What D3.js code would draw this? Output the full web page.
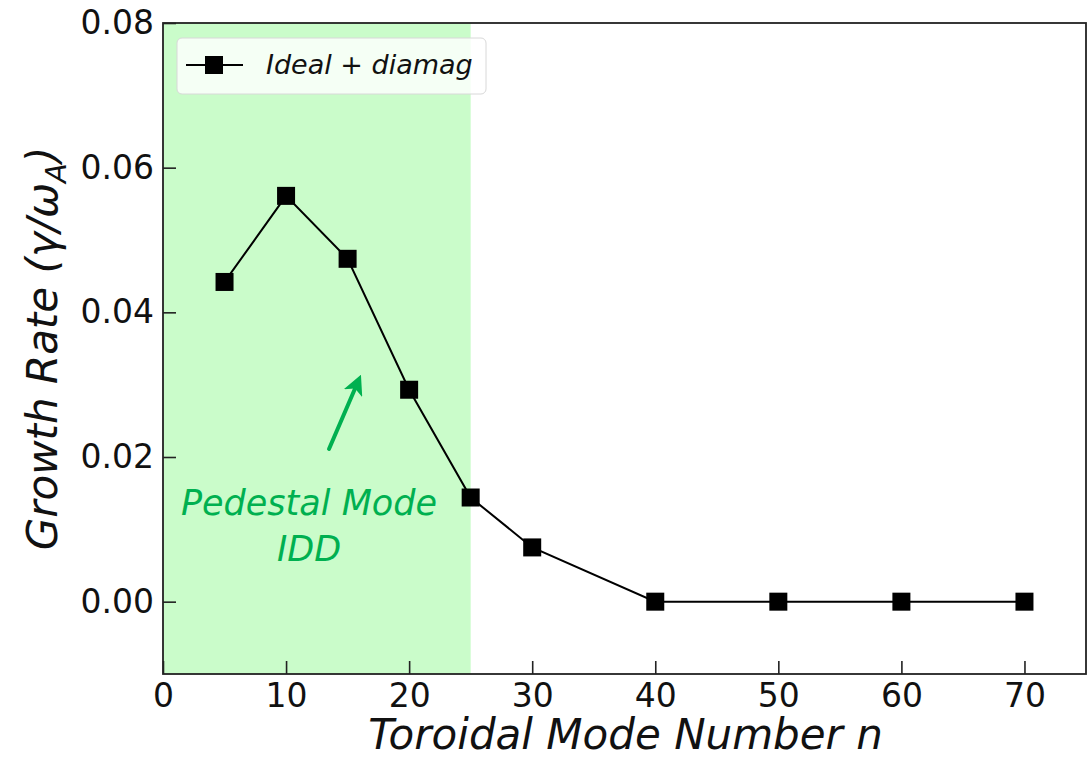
<!DOCTYPE html>
<html>
<head>
<meta charset="utf-8">
<script src="https://cdn.jsdelivr.net/npm/d3@7"></script>
<style>
  html, body { margin: 0; padding: 0; background: #fff; }
  svg { display: block; }
</style>
</head>
<body>
<svg id="chart" width="1088" height="758"></svg>
<script>
// Growth rate versus toroidal mode number
const modeNumbers = [5, 10, 15, 20, 25, 30, 40, 50, 60, 70];
const growthRates = [0.0442, 0.0561, 0.0474, 0.0293, 0.0144, 0.0075, 0.0, 0.0, 0.0, 0.0];
const xTicks = [0, 10, 20, 30, 40, 50, 60, 70];
const yTicks = [0.00, 0.02, 0.04, 0.06, 0.08];
const seriesName = "Ideal + diamag";
const pedestalRange = [0, 25];
const annotationLines = ["Pedestal Mode", "IDD"];

const svg = d3.select("#chart");
const plotL = 163, plotR = 1086, plotT = 23, plotB = 674;

const x = d3.scaleLinear().domain([0, 75]).range([plotL, plotR]);
const y = d3.scaleLinear().domain([-0.01, 0.08]).range([plotB, plotT]);

const tickFont = "'DejaVu Sans', sans-serif";

// Shaded pedestal region
svg.append("rect")
  .attr("x", x(pedestalRange[0]))
  .attr("y", plotT)
  .attr("width", x(pedestalRange[1]) - x(pedestalRange[0]))
  .attr("height", plotB - plotT)
  .attr("fill", "#cafcca");

// Axes with inward ticks
const xAxis = d3.axisBottom(x).tickValues(xTicks).tickSize(-13).tickPadding(10)
  .tickFormat(d3.format("d"));
const yAxis = d3.axisLeft(y).tickValues(yTicks).tickSize(-13).tickPadding(9)
  .tickFormat(d3.format(".2f"));

const gx = svg.append("g").attr("transform", `translate(0,${plotB})`).call(xAxis);
const gy = svg.append("g").attr("transform", `translate(${plotL},0)`).call(yAxis);
[gx, gy].forEach(g => {
  g.select(".domain").remove();
  g.selectAll(".tick line").attr("stroke", "#222").attr("stroke-width", 1.6);
  g.selectAll(".tick text")
    .attr("font-family", tickFont)
    .attr("font-size", 33)
    .attr("fill", "#111");
});

// Frame
svg.append("rect")
  .attr("x", plotL).attr("y", plotT)
  .attr("width", plotR - plotL).attr("height", plotB - plotT)
  .attr("fill", "none").attr("stroke", "#222").attr("stroke-width", 1.8);

// Data line and markers
const pts = modeNumbers.map((n, i) => ({ n, g: growthRates[i] }));
const line = d3.line().x(d => x(d.n)).y(d => y(d.g));
svg.append("path").datum(pts)
  .attr("d", line)
  .attr("fill", "none").attr("stroke", "#000").attr("stroke-width", 2);
const ms = 18;
svg.append("g").selectAll("rect").data(pts).join("rect")
  .attr("x", d => x(d.n) - ms / 2)
  .attr("y", d => y(d.g) - ms / 2)
  .attr("width", ms).attr("height", ms)
  .attr("fill", "#000");

// Legend
const lg = svg.append("g");
lg.append("rect")
  .attr("x", 177).attr("y", 38).attr("width", 309).attr("height", 56)
  .attr("rx", 5)
  .attr("fill", "rgba(255,255,255,0.8)")
  .attr("stroke", "#d8d8d8").attr("stroke-width", 1);
lg.append("line")
  .attr("x1", 186).attr("x2", 243).attr("y1", 65).attr("y2", 65)
  .attr("stroke", "#000").attr("stroke-width", 2);
lg.append("rect")
  .attr("x", 214 - 9).attr("y", 65 - 9).attr("width", 18).attr("height", 18)
  .attr("fill", "#000");
lg.append("text")
  .attr("x", 266).attr("y", 74)
  .attr("font-family", tickFont).attr("font-style", "italic")
  .attr("font-size", 27).attr("fill", "#111")
  .text(seriesName);

// Axis titles
svg.append("text")
  .attr("x", (plotL + plotR) / 2 + 1).attr("y", 749)
  .attr("text-anchor", "middle")
  .attr("font-family", tickFont).attr("font-style", "italic")
  .attr("font-size", 42).attr("fill", "#111")
  .text("Toroidal Mode Number n");

const yt = svg.append("text")
  .attr("transform", `translate(57,${(plotT + plotB) / 2}) rotate(-90)`)
  .attr("text-anchor", "middle")
  .attr("font-family", tickFont).attr("font-style", "italic")
  .attr("font-size", 42).attr("fill", "#111");
yt.append("tspan").text("Growth Rate (γ/ω");
yt.append("tspan").attr("font-size", 29).attr("dy", 9).text("A");
yt.append("tspan").attr("dy", -9).text(")");

// Annotation: arrow and label
const green = "#00b050";
svg.append("defs").append("marker")
  .attr("id", "arrowhead")
  .attr("viewBox", "0 0 10 10").attr("refX", 5).attr("refY", 5)
  .attr("markerWidth", 5).attr("markerHeight", 5).attr("orient", "auto")
  .append("path").attr("d", "M0,0 L10,5 L0,10 L2.5,5 Z").attr("fill", green);
svg.append("line")
  .attr("x1", 329).attr("y1", 449).attr("x2", 357).attr("y2", 384)
  .attr("stroke", green).attr("stroke-width", 4).attr("stroke-linecap", "round")
  .attr("marker-end", "url(#arrowhead)");

const at = svg.append("text")
  .attr("text-anchor", "middle")
  .attr("font-family", "'DejaVu Sans', sans-serif").attr("font-style", "italic")
  .attr("font-size", 35).attr("fill", green);
annotationLines.forEach((t, i) => {
  at.append("tspan").attr("x", 309).attr("y", 515 + i * 46).text(t);
});
</script>
</body>
</html>
